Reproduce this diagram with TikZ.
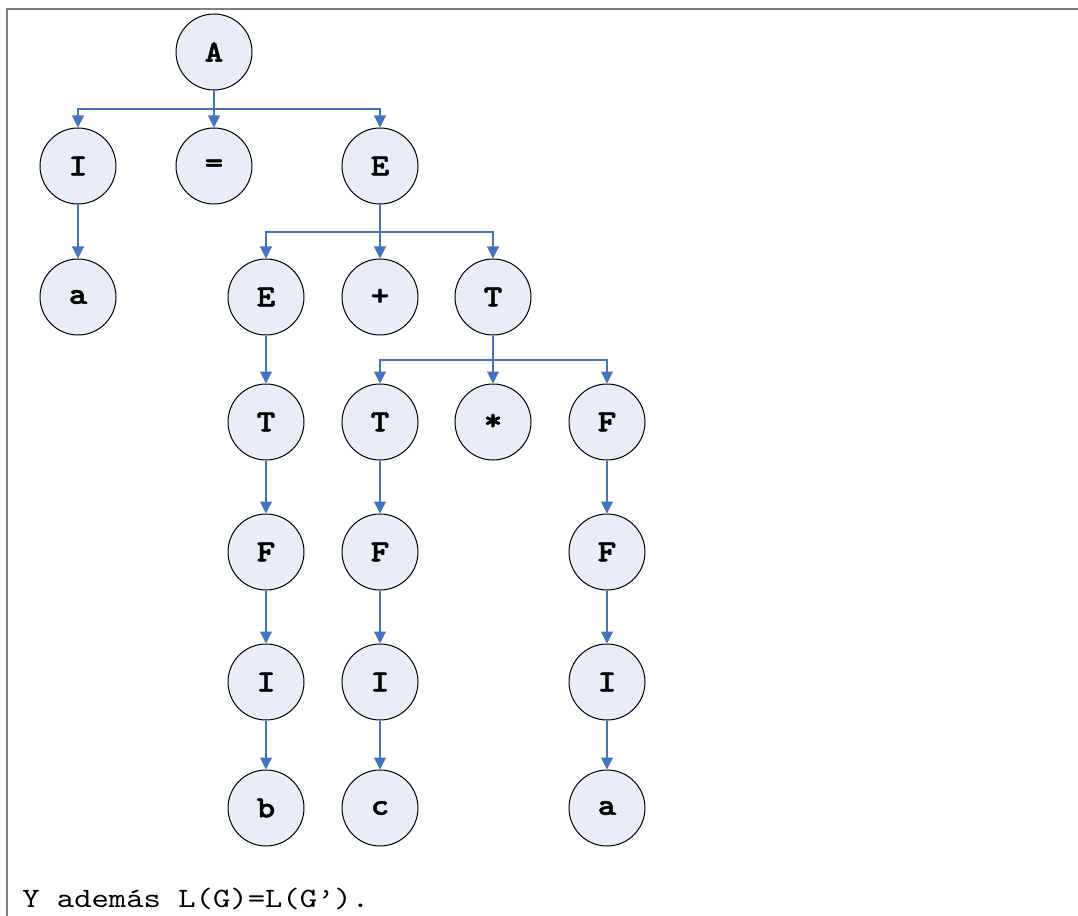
\documentclass[tikz,border=0pt]{standalone}
\usepackage{fontspec}
\newfontfamily\nodefont{lmmonolt10-bold.otf}[FakeStretch=1.15,FakeBold=1.5]
\newfontfamily\plainmono{lmmono10-regular.otf}[FakeStretch=1.18]
\usetikzlibrary{arrows.meta}
\definecolor{nodefill}{HTML}{E9EDF7}
\definecolor{linkblue}{HTML}{4472C4}
\definecolor{framegray}{HTML}{808080}
\tikzset{
  tnode/.style={circle, draw=black, line width=0.75pt, fill=nodefill, minimum size=57pt, inner sep=0pt,
    font=\nodefont\fontsize{23}{26}\selectfont},
  conn/.style={draw=linkblue, line width=0.8pt, -{Triangle[width=9pt,length=9pt]}},
  framestyle/.style={draw=framegray, line width=1.5pt}
}
\begin{document}
\begin{tikzpicture}[x=0.75pt,y=-0.75pt]
\useasboundingbox (0,0) rectangle (1078,916);
\draw[framestyle] (7,916) -- (7,9) -- (1079,9);
% row 1
\node[tnode] (A) at (214,52) {A};
% row 2
\node[tnode] (I1) at (78,166) {I};
\node[tnode] (EQ) at (214,166) {=};
\node[tnode] (E1) at (380,166) {E};
% row 3
\node[tnode] (a1) at (78,297) {a};
\node[tnode] (E2) at (266,297) {E};
\node[tnode] (PL) at (380,297) {+};
\node[tnode] (T1) at (493,297) {T};
% row 4
\node[tnode] (T2) at (266,422) {T};
\node[tnode] (T3) at (380,422) {T};
\node[tnode] (ST) at (493,422) {*};
\node[tnode] (F1) at (607,422) {F};
% row 5
\node[tnode] (F2) at (266,552) {F};
\node[tnode] (F3) at (380,552) {F};
\node[tnode] (F4) at (607,552) {F};
% row 6
\node[tnode] (I2) at (266,682) {I};
\node[tnode] (I3) at (380,682) {I};
\node[tnode] (I4) at (607,682) {I};
% row 7
\node[tnode] (b1) at (266,808) {b};
\node[tnode] (c1) at (380,808) {c};
\node[tnode] (a2) at (607,808) {a};
% bus coordinates
\coordinate (busA) at (214,109);
\coordinate (busE) at (380,232);
\coordinate (busT) at (493,360);
% connectors
\foreach \c in {I1,EQ,E1} \draw[conn] (A.south) -- (A.south |- busA) -| (\c.north);
\foreach \c in {E2,PL,T1} \draw[conn] (E1.south) -- (E1.south |- busE) -| (\c.north);
\foreach \c in {T3,ST,F1} \draw[conn] (T1.south) -- (T1.south |- busT) -| (\c.north);
\draw[conn] (I1) -- (a1);
\draw[conn] (E2) -- (T2);
\draw[conn] (T2) -- (F2);
\draw[conn] (F2) -- (I2);
\draw[conn] (I2) -- (b1);
\draw[conn] (T3) -- (F3);
\draw[conn] (F3) -- (I3);
\draw[conn] (I3) -- (c1);
\draw[conn] (F1) -- (F4);
\draw[conn] (F4) -- (I4);
\draw[conn] (I4) -- (a2);
% bottom text
\node[anchor=base west, inner sep=0pt, font=\plainmono\fontsize{21}{24}\selectfont] (txt) at (22,907) {Y además L(G)=L(G’).};
\end{tikzpicture}
\end{document}
